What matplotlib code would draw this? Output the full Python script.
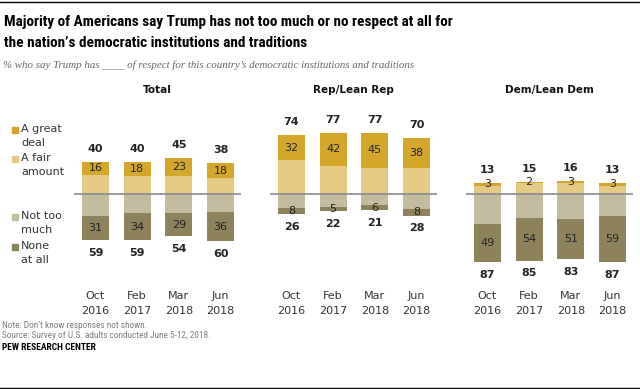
import matplotlib.pyplot as plt
from matplotlib.patches import Rectangle
from matplotlib.lines import Line2D
import numpy as np

# survey waves
waves = ["Oct\n2016", "Feb\n2017", "Mar\n2018", "Jun\n2018"]
panels = ["Total", "Rep/Lean Rep", "Dem/Lean Dem"]

# % saying Trump has ... respect (per panel, per wave)
great_deal = {"Total": [16, 18, 23, 18], "Rep/Lean Rep": [32, 42, 45, 38], "Dem/Lean Dem": [3, 2, 3, 3]}
fair_amount = {"Total": [24, 22, 22, 20], "Rep/Lean Rep": [42, 35, 32, 32], "Dem/Lean Dem": [10, 13, 13, 10]}
not_too_much = {"Total": [28, 25, 25, 24], "Rep/Lean Rep": [18, 17, 15, 20], "Dem/Lean Dem": [38, 31, 32, 28]}
none_at_all = {"Total": [31, 34, 29, 36], "Rep/Lean Rep": [8, 5, 6, 8], "Dem/Lean Dem": [49, 54, 51, 59]}
net_pos = {"Total": [40, 40, 45, 38], "Rep/Lean Rep": [74, 77, 77, 70], "Dem/Lean Dem": [13, 15, 16, 13]}
net_neg = {"Total": [59, 59, 54, 60], "Rep/Lean Rep": [26, 22, 21, 28], "Dem/Lean Dem": [87, 85, 83, 87]}

c_great = "#D4A62A"
c_fair = "#E5CA85"
c_nottoo = "#C3BC9F"
c_none = "#8D8259"
txt = "#222222"

W, H = 640, 389
fig = plt.figure(figsize=(W / 100, H / 100), dpi=100)
fig.patch.set_facecolor("white")
renderer = fig.canvas.get_renderer()

narrow = ["Liberation Sans Narrow", "DejaVu Sans Condensed", "Roboto Condensed", "Liberation Sans"]


def fit_text(xp, yp, s, width_px, **kw):
    # put text at pixel position and scale font so it spans width_px
    t = fig.text(xp / W, 1 - yp / H, s, va="center", ha="left", **kw)
    w = t.get_window_extent(renderer).width
    t.set_fontsize(t.get_fontsize() * width_px / w)
    return t


# axes placement (pixels -> figure fraction)
lefts = [74.2, 270.2, 466.2]
ax_w = 167.2
ax_top, ax_bot = 114.5, 272.5

x = np.arange(4)
bw = 0.65

for left, name in zip(lefts, panels):
    ax = fig.add_axes([left / W, 1 - ax_bot / H, ax_w / W, (ax_bot - ax_top) / H])
    ax.set_xlim(-0.51, 3.5)
    ax.set_ylim(-100, 100)
    ax.axis("off")

    gd = np.array(great_deal[name])
    fa = np.array(fair_amount[name])
    nt = np.array(not_too_much[name])
    na = np.array(none_at_all[name])

    ax.bar(x, fa, bw, color=c_fair, zorder=2)
    ax.bar(x, gd, bw, bottom=fa, color=c_great, zorder=2)
    ax.bar(x, -nt, bw, color=c_nottoo, zorder=2)
    ax.bar(x, -na, bw, bottom=-nt, color=c_none, zorder=2)
    ax.axhline(0, color="#8a8a8a", lw=1.2, zorder=3)

    for i in range(4):
        ax.text(x[i], fa[i] + gd[i] / 2, str(gd[i]), ha="center", va="center",
                fontsize=8, color=txt, zorder=4)
        ax.text(x[i], -nt[i] - na[i] / 2, str(na[i]), ha="center", va="center",
                fontsize=8, color=txt, zorder=4)
        ax.annotate(str(net_pos[name][i]), (x[i], fa[i] + gd[i]), xytext=(0, 9.4),
                    textcoords="offset points", ha="center", va="center",
                    fontsize=8, fontweight="bold", color=txt)
        ax.annotate(str(net_neg[name][i]), (x[i], -nt[i] - na[i]), xytext=(0, -9.2),
                    textcoords="offset points", ha="center", va="center",
                    fontsize=8, fontweight="bold", color=txt)
        ax.annotate(waves[i], (x[i], 0), xycoords=("data", "axes fraction"),
                    xytext=(0, -13.5), textcoords="offset points", ha="center", va="top",
                    fontsize=8, color="#333333", linespacing=1.55)

    ax.text(0.5, 1 + (ax_top - 90) / (ax_bot - ax_top), name, transform=ax.transAxes,
            ha="center", va="center", fontsize=7.5, fontweight="bold", color="#111111")

# legend
legend_items = [("A great\ndeal", c_great, 130), ("A fair\namount", c_fair, 159),
                ("Not too\nmuch", c_nottoo, 217), ("None\nat all", c_none, 247)]
for label, col, yp in legend_items:
    fig.add_artist(Rectangle((12.3 / W, 1 - (yp + 2.6) / H), 5.2 / W, 5.2 / H,
                             transform=fig.transFigure, color=col))
    fig.text(21 / W, 1 - (yp - 6) / H, label, ha="left", va="top", fontsize=8,
             color="#333333", linespacing=1.55)

# title and notes
fig.add_artist(Line2D([0, 1], [1 - 1.5 / H, 1 - 1.5 / H], color="black", lw=1))
t1 = fit_text(4, 22, "Majority of Americans say Trump has not too much or no respect at all for", 451,
              fontsize=11.5, fontweight="bold", family=narrow, color="black")
t2 = fig.text(4 / W, 1 - 43 / H, "the nation\u2019s democratic institutions and traditions",
              fontsize=t1.get_fontsize(), fontweight="bold", family=narrow, color="black",
              va="center")
fit_text(3, 65, "% who say Trump has ____ of respect for this country\u2019s democratic institutions and traditions",
         408, fontsize=7.5, style="italic", family=["Liberation Serif", "DejaVu Serif"], color="#666666")

src = fit_text(2, 335, "Source: Survey of U.S. adults conducted June 5-12, 2018.", 211,
               fontsize=6.8, family=narrow, color="#7f7f7f")
fig.text(2 / W, 1 - 325 / H, "Note: Don\u2019t know responses not shown.", va="center",
         fontsize=src.get_fontsize(), family=narrow, color="#7f7f7f")
fit_text(2, 347, "PEW RESEARCH CENTER", 94, fontsize=6.8, fontweight="bold",
         family=narrow, color="black")
fig.add_artist(Line2D([0, 1], [1 - 387.5 / H, 1 - 387.5 / H], color="black", lw=1))

fig.savefig("out.png", dpi=100)
